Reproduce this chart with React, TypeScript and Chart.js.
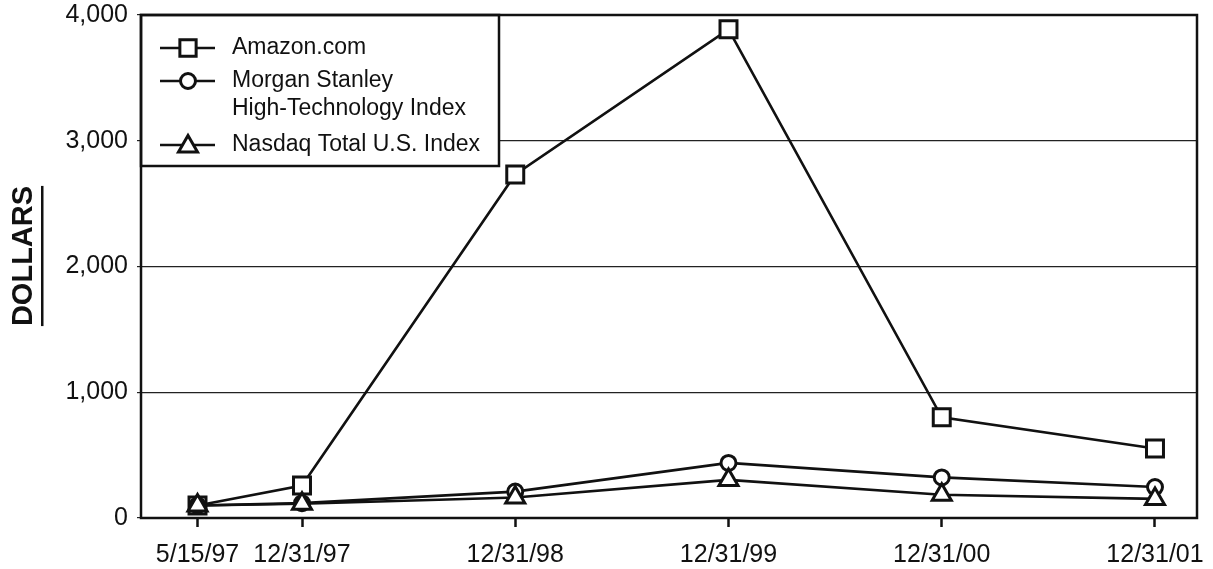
import React, { useEffect, useRef } from "react";
import { Chart, registerables } from "chart.js";

Chart.register(...registerables);

const xLabels = ["5/15/97", "12/31/97", "12/31/98", "12/31/99", "12/31/00", "12/31/01"];
const xValues = [1997.51, 1998, 1999, 2000, 2001, 2002];
const amazon = [100, 258, 2732, 3886, 801, 553];
const morganStanley = [100, 118, 210, 438, 323, 246];
const nasdaq = [100, 113, 163, 303, 185, 152];
const seriesNames = ["Amazon.com", "Morgan Stanley\nHigh-Technology Index", "Nasdaq Total U.S. Index"];
const yTicks = [0, 1000, 2000, 3000, 4000];

const FONT = "'Liberation Sans', Arial, Helvetica, sans-serif";

function drawMarker(ctx: CanvasRenderingContext2D, style: string, x: number, y: number, r: number) {
  ctx.beginPath();
  if (style === "rect") {
    const s = r * Math.SQRT1_2;
    ctx.rect(x - s, y - s, 2 * s, 2 * s);
  } else if (style === "circle") {
    ctx.arc(x, y, r, 0, Math.PI * 2);
  } else {
    let a = 0;
    ctx.moveTo(x + Math.sin(a) * r, y - Math.cos(a) * r);
    a += (2 * Math.PI) / 3;
    ctx.lineTo(x + Math.sin(a) * r, y - Math.cos(a) * r);
    a += (2 * Math.PI) / 3;
    ctx.lineTo(x + Math.sin(a) * r, y - Math.cos(a) * r);
    ctx.closePath();
  }
  ctx.fillStyle = "#fff";
  ctx.fill();
  ctx.stroke();
}

const framePlugin = {
  id: "frameAndLegend",
  afterDraw(chart: any) {
    const { ctx, chartArea } = chart;
    const { left, top, right, bottom } = chartArea;
    ctx.save();
    // legend box
    const lx = left, ly = top, lw = 358, lh = 151;
    ctx.fillStyle = "#fff";
    ctx.fillRect(lx, ly, lw, lh);
    ctx.lineWidth = 2.5;
    ctx.strokeStyle = "#111";
    ctx.strokeRect(lx, ly, lw, lh);
    const rows = [
      { style: "rect", r: 11.5, y: ly + 33, name: seriesNames[0] },
      { style: "circle", r: 7.5, y: ly + 66, name: seriesNames[1] },
      { style: "triangle", r: 11, y: ly + 130, name: seriesNames[2] },
    ];
    ctx.font = `23px ${FONT}`;
    ctx.textBaseline = "middle";
    ctx.textAlign = "left";
    for (const row of rows) {
      ctx.strokeStyle = "#111";
      ctx.lineWidth = 2.5;
      ctx.beginPath();
      ctx.moveTo(lx + 19, row.y);
      ctx.lineTo(lx + 74, row.y);
      ctx.stroke();
      ctx.lineWidth = 3;
      drawMarker(ctx, row.style, lx + 47, row.y + (row.style === "triangle" ? 1.5 : 0), row.r);
      ctx.fillStyle = "#111";
      const lines = row.name.split("\n");
      lines.forEach((t, i) => ctx.fillText(t, lx + 91, row.y + i * 28));
    }
    // frame
    ctx.lineWidth = 2.5;
    ctx.strokeStyle = "#111";
    ctx.strokeRect(left, top, right - left, bottom - top);
    // y title
    ctx.translate(24, 256);
    ctx.rotate(-Math.PI / 2);
    ctx.font = `bold 29px ${FONT}`;
    ctx.textAlign = "center";
    ctx.textBaseline = "middle";
    ctx.fillStyle = "#111";
    ctx.fillText("DOLLARS", 0, 0);
    const w = ctx.measureText("DOLLARS").width;
    ctx.fillRect(-w / 2, 17, w, 2.5);
    ctx.restore();
  },
};

export default function App() {
  const ref = useRef<HTMLCanvasElement | null>(null);
  useEffect(() => {
    document.body.style.margin = "0";
    const mk = (data: number[]) => data.map((v, i) => ({ x: xValues[i], y: v }));
    const common = {
      borderColor: "#111",
      backgroundColor: "#fff",
      borderWidth: 2.6,
      pointBorderColor: "#111",
      pointBackgroundColor: "#fff",
      pointBorderWidth: 3,
      tension: 0,
    };
    const chart = new Chart(ref.current!, {
      type: "line",
      data: {
        datasets: [
          { ...common, label: seriesNames[0], data: mk(amazon), pointStyle: "rect", pointRadius: 12, order: 3 },
          { ...common, label: seriesNames[1], data: mk(morganStanley), pointStyle: "circle", pointRadius: 7.5, order: 2 },
          { ...common, label: seriesNames[2], data: mk(nasdaq), pointStyle: "triangle", pointRadius: 11, order: 1 },
        ],
      },
      options: {
        animation: false,
        responsive: false,
        events: [],
        layout: { padding: { left: 0, top: 14, right: 16, bottom: 0 } },
        plugins: { legend: { display: false }, tooltip: { enabled: false } },
        scales: {
          x: {
            type: "linear",
            min: 1997.245,
            max: 2002.197,
            afterBuildTicks: (scale: any) => {
              scale.ticks = xValues.map((v) => ({ value: v }));
            },
            afterFit: (scale: any) => {
              scale.height = 51;
              scale.paddingLeft = 0;
              scale.paddingRight = 0;
            },
            grid: { drawOnChartArea: false, drawTicks: true, tickLength: 9, tickWidth: 2.5, tickColor: "#111" },
            border: { display: false },
            ticks: {
              autoSkip: false,
              maxRotation: 0,
              padding: 13,
              color: "#111",
              font: { family: FONT, size: 25 },
              callback: (_v: any, i: number) => xLabels[i],
            },
          },
          y: {
            type: "linear",
            min: 0,
            max: 4000,
            afterBuildTicks: (scale: any) => {
              scale.ticks = yTicks.map((v) => ({ value: v }));
            },
            afterFit: (scale: any) => {
              scale.width = 141;
              scale.paddingTop = 0;
              scale.paddingBottom = 0;
            },
            grid: { color: "#222", lineWidth: 1.2, drawTicks: true, tickLength: 4 },
            border: { display: false },
            ticks: {
              padding: 9,
              color: "#111",
              font: { family: FONT, size: 25 },
              callback: (v: any) => Number(v).toLocaleString("en-US"),
            },
          },
        },
      },
      plugins: [framePlugin],
    } as any);
    return () => chart.destroy();
  }, []);
  return (
    <div style={{ width: 1213, height: 569, position: "relative" }}>
      <canvas ref={ref} width={1213} height={569} style={{ display: "block" }} />
    </div>
  );
}
